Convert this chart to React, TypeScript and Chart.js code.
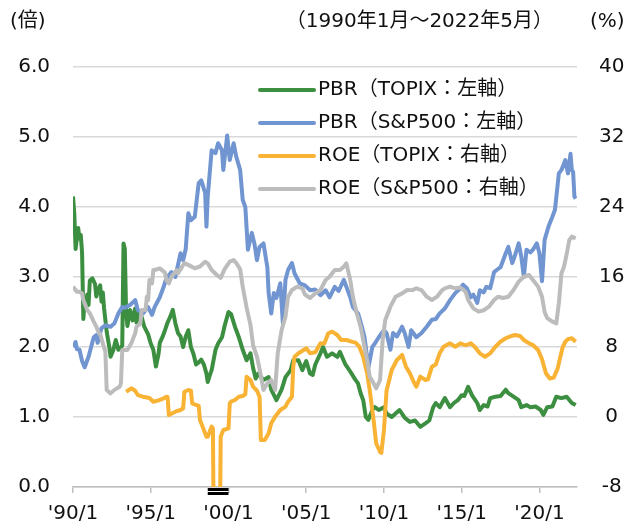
import React, { useEffect, useRef } from 'react';
import { Chart, registerables } from 'chart.js';
Chart.register(...registerables);

// x values are month offsets from 1990/1
const X_MAX = 389;
const X_TICKS = [0, 60, 120, 180, 240, 300, 360];
const X_TICK_LABELS = ["'90/1", "'95/1", "'00/1", "'05/1", "'10/1", "'15/1", "'20/1"];
const LEFT_MIN = 0, LEFT_MAX = 6, LEFT_STEP = 1;
const RIGHT_MIN = -8, RIGHT_MAX = 40, RIGHT_STEP = 8;
const SERIES_NAMES = ['PBR（TOPIX：左軸）', 'PBR（S&P500：左軸）', 'ROE（TOPIX：右軸）', 'ROE（S&P500：右軸）'];
const SERIES_COLORS = ['#3c8f40', '#7095d1', '#f8b234', '#bcbcbc'];
const TITLE_LEFT = '(倍)';
const TITLE_MID = '（1990年1月～2022年5月）';
const TITLE_RIGHT = '(%)';
const OFFSCALE_RANGE = [104, 120];

const PBR_TOPIX: [number, number][] = [
  [0,4.15],[1,3.9],[2,3.4],[3,3.55],[4,3.7],[5,3.55],[6,3.6],[7,3.35],[8,2.4],[9,2.7],[10,2.6],[11,2.75],[12,2.6],[13,2.95],[15,2.98],[17,2.9],[18,2.72],[19,2.8],[21,2.88],[22,2.65],[23,2.78],[24,2.55],[26,2.22],[28,2.0],[29,1.86],[31,1.95],[33,2.1],[35,1.96],[37,2.0],[38,2.02],[39,3.48],[40,3.4],[41,2.48],[42,2.3],[44,2.53],[46,2.38],[48,2.55],[49,2.35],[51,2.48],[53,2.43],[55,2.29],[58,2.18],[60,2.05],[62,1.96],[64,1.72],[66,1.9],[67,2.06],[69,2.14],[71,2.24],[73,2.35],[75,2.43],[77,2.53],[79,2.34],[81,2.2],[83,2.15],[85,2.0],[87,2.15],[89,2.24],[91,2.0],[93,1.9],[95,1.75],[97,1.78],[99,1.82],[101,1.75],[103,1.62],[104,1.5],[106,1.62],[107,1.67],[110,1.96],[112,2.05],[115,2.14],[117,2.3],[120,2.5],[122,2.47],[125,2.29],[128,2.14],[131,1.96],[134,1.81],[137,1.91],[139,1.7],[141,1.55],[143,1.62],[147,1.53],[151,1.57],[153,1.39],[157,1.24],[161,1.39],[164,1.57],[168,1.67],[170,1.81],[174,1.81],[177,1.67],[180,1.8],[183,1.62],[185,1.6],[187,1.75],[191,1.91],[193,2.0],[196,1.86],[200,1.91],[204,1.86],[206,1.93],[210,1.76],[214,1.65],[218,1.53],[220,1.48],[222,1.34],[224,1.24],[226,1.0],[228,0.96],[231,1.1],[233,1.14],[236,1.1],[240,1.14],[242,1.05],[246,1.0],[249,1.05],[252,1.1],[256,0.99],[260,0.93],[264,0.95],[268,0.86],[272,0.91],[275,0.95],[278,1.14],[280,1.2],[283,1.14],[287,1.27],[291,1.14],[294,1.2],[297,1.24],[300,1.31],[302,1.3],[305,1.43],[308,1.31],[312,1.2],[314,1.1],[317,1.17],[320,1.15],[322,1.27],[326,1.29],[330,1.3],[334,1.39],[336,1.34],[340,1.29],[344,1.24],[346,1.14],[350,1.17],[353,1.14],[357,1.15],[361,1.1],[363,1.03],[366,1.14],[370,1.15],[373,1.29],[377,1.27],[381,1.29],[385,1.2],[388,1.17]
];

const PBR_SP500: [number, number][] = [
  [0,2.0],[2,2.07],[3,1.97],[5,1.96],[7,1.8],[9,1.71],[12,1.86],[14,2.0],[16,2.14],[18,2.17],[19,2.06],[22,2.27],[25,2.31],[29,2.29],[32,2.34],[35,2.48],[38,2.57],[40,2.56],[44,2.6],[48,2.67],[50,2.53],[54,2.48],[58,2.57],[61,2.46],[63,2.57],[67,2.71],[70,2.86],[72,2.98],[76,3.07],[79,3.0],[83,3.34],[85,3.24],[87,3.4],[89,3.91],[91,3.81],[94,3.86],[97,4.34],[99,4.38],[102,4.2],[103,3.72],[104,4.15],[107,4.81],[110,4.77],[112,4.91],[115,4.81],[116,4.53],[119,5.02],[121,4.67],[124,4.91],[126,4.72],[129,4.53],[131,4.1],[133,4.0],[135,3.39],[138,3.63],[140,3.48],[142,3.24],[144,3.43],[147,3.48],[150,3.14],[151,2.77],[153,2.48],[155,2.77],[157,2.7],[160,2.91],[162,2.34],[164,2.96],[166,3.1],[169,3.2],[171,3.05],[175,2.91],[179,2.88],[183,2.81],[187,2.82],[191,2.74],[195,2.81],[198,2.71],[202,2.86],[205,2.8],[209,2.96],[211,2.86],[214,2.71],[216,2.57],[220,2.48],[223,2.29],[225,2.14],[228,1.71],[231,2.0],[233,2.05],[236,2.14],[240,2.24],[242,2.2],[245,1.96],[247,2.2],[250,2.15],[254,2.29],[256,2.2],[259,2.0],[261,2.24],[265,2.14],[269,2.2],[273,2.29],[277,2.39],[280,2.4],[283,2.48],[287,2.55],[291,2.67],[295,2.77],[299,2.84],[301,2.89],[304,2.84],[307,2.71],[309,2.75],[312,2.63],[314,2.81],[317,2.78],[319,2.86],[322,2.84],[325,3.07],[327,3.1],[330,3.14],[334,3.34],[336,3.43],[339,3.2],[341,3.3],[344,3.48],[346,3.29],[348,3.0],[350,3.39],[353,3.35],[355,3.39],[358,3.48],[360,3.34],[362,2.94],[364,3.53],[367,3.72],[370,3.86],[372,3.96],[375,4.48],[377,4.53],[380,4.67],[382,4.48],[384,4.76],[385,4.53],[386,4.5],[387,4.15],[388,4.12]
];

const ROE_TOPIX: [number, number][] = [
  [41,2.89],[45,3.28],[48,3.0],[50,2.51],[54,2.32],[59,2.17],[62,1.75],[66,1.9],[70,2.13],[72,2.32],[73,2.3],[74,0.23],[79,0.61],[83,0.8],[85,1.0],[86,2.89],[89,3.09],[91,3.0],[92,1.56],[95,1.37],[97,1.3],[98,-0.34],[100,-1.1],[103,-2.25],[104,-2.25],[106,-1.49],[107,-1.1],[108,-1.3],[109,-20],[113,-20],[114,-2.25],[116,-1.49],[118,-1.4],[120,-1.3],[121,1.56],[122,1.75],[125,1.94],[128,2.32],[131,2.4],[133,2.6],[134,4.6],[137,4.23],[139,3.46],[142,3.0],[144,2.32],[145,-2.63],[148,-2.63],[151,-1.87],[153,-0.72],[156,0.04],[160,0.8],[164,1.18],[166,1.75],[169,2.32],[170,5.75],[171,6.89],[174,7.28],[178,7.66],[180,7.85],[183,7.28],[187,7.4],[191,8.42],[194,8.4],[197,9.57],[200,9.75],[204,9.37],[207,8.8],[211,8.8],[215,8.61],[218,8.5],[221,8.03],[224,6.89],[227,5.0],[229,3.09],[232,-0.34],[234,-3.0],[237,-4.0],[238,-4.1],[240,-1.5],[242,3.0],[246,5.37],[250,6.51],[254,7.09],[257,5.75],[260,5.0],[263,4.0],[265,3.46],[268,4.61],[272,4.23],[274,4.3],[277,5.75],[280,6.0],[283,7.28],[286,8.03],[291,8.42],[295,8.03],[299,8.42],[303,8.2],[307,8.42],[310,8.03],[314,7.28],[318,6.89],[322,7.28],[326,8.03],[330,8.61],[334,9.0],[337,9.18],[341,9.37],[345,9.26],[348,8.8],[352,8.42],[355,8.23],[359,7.66],[362,6.6],[365,5.0],[368,4.4],[371,4.5],[374,5.5],[376,6.8],[378,8.0],[380,8.6],[382,8.9],[385,9.0],[388,8.6]
];

const ROE_SP500: [number, number][] = [
  [0,14.9],[3,14.32],[5,14.32],[7,14.13],[8,13.37],[11,12.23],[13,11.85],[16,10.9],[18,10.32],[20,9.57],[21,9.5],[23,8.4],[25,7.5],[26,3.09],[29,2.7],[32,3.1],[36,3.46],[37,3.85],[38,7.66],[42,7.66],[45,8.42],[48,9.57],[49,10.32],[52,10.7],[53,12.23],[56,12.23],[57,13.75],[58,13.37],[59,15.66],[61,15.28],[62,16.8],[63,16.8],[67,16.99],[71,16.5],[72,15.66],[74,15.28],[76,16.03],[80,16.8],[81,16.42],[86,17.6],[90,17.3],[94,17.0],[98,17.2],[102,17.75],[104,17.56],[107,16.8],[111,16.23],[114,15.9],[117,16.9],[121,17.75],[124,17.94],[126,17.6],[129,16.9],[131,14.9],[134,12.5],[137,10.5],[139,8.2],[142,6.89],[144,5.5],[147,3.09],[150,3.85],[153,4.23],[156,3.09],[158,7.28],[161,9.94],[164,11.47],[166,13.75],[169,14.51],[173,14.9],[177,14.71],[179,14.0],[183,13.6],[187,14.13],[191,14.51],[195,15.66],[198,16.03],[202,16.8],[206,16.8],[209,17.18],[211,17.56],[214,15.66],[216,13.75],[219,11.85],[222,10.32],[224,8.8],[227,6.51],[229,4.61],[232,3.85],[234,3.28],[237,4.23],[239,8.8],[241,11.09],[245,12.61],[249,13.75],[254,14.13],[258,14.51],[262,14.5],[265,14.71],[269,14.5],[273,13.75],[277,13.37],[281,13.75],[285,14.51],[287,14.71],[291,14.9],[295,14.71],[299,14.8],[303,14.32],[305,13.37],[309,12.42],[313,12.04],[317,12.2],[321,12.61],[325,13.37],[328,13.75],[332,13.6],[336,13.75],[340,14.51],[344,15.47],[348,16.03],[352,16.23],[355,15.66],[359,14.9],[362,13.75],[364,12.0],[366,11.3],[370,10.89],[373,10.7],[375,13.0],[377,16.42],[379,17.18],[381,18.6],[383,20.2],[385,20.61],[388,20.42]
];

const FONT_FAMILY = "'DejaVu Sans', 'Noto Sans CJK JP', sans-serif";
const FONT_SIZE = 20;
const TEXT_COLOR = '#111111';
const GRID_COLOR = '#d9d9d9';
const AXIS_COLOR = '#bfbfbf';

const overlayPlugin = {
  id: 'overlay',
  afterDraw(chart: any) {
    const ctx: CanvasRenderingContext2D = chart.ctx;
    const area = chart.chartArea;
    ctx.save();
    ctx.font = `${FONT_SIZE}px ${FONT_FAMILY}`;
    ctx.fillStyle = TEXT_COLOR;
    ctx.textBaseline = 'middle';
    ctx.textAlign = 'left';
    ctx.fillText(TITLE_LEFT, 10, 22);
    ctx.textAlign = 'right';
    ctx.fillText(TITLE_MID, 553, 22);
    ctx.textAlign = 'left';
    ctx.fillText(TITLE_RIGHT, 590, 22);

    // legend
    const lx0 = 260, lx1 = 314, ly0 = 90, lstep = 33;
    SERIES_NAMES.forEach((name, i) => {
      const y = ly0 + i * lstep;
      ctx.strokeStyle = SERIES_COLORS[i];
      ctx.lineWidth = 4;
      ctx.lineCap = 'round';
      ctx.beginPath();
      ctx.moveTo(lx0, y);
      ctx.lineTo(lx1, y);
      ctx.stroke();
      ctx.fillStyle = TEXT_COLOR;
      ctx.textAlign = 'left';
      ctx.fillText(name, lx1 + 4, y);
    });

    // off-scale marker below the axis
    const xs = chart.scales.x;
    const a = xs.getPixelForValue(OFFSCALE_RANGE[0]);
    const b = xs.getPixelForValue(OFFSCALE_RANGE[1]);
    ctx.fillStyle = '#000';
    ctx.fillRect(a, area.bottom + 1, b - a, 3);
    ctx.fillRect(a, area.bottom + 5, b - a, 3);
    ctx.restore();
  },
};

function toXY(arr: [number, number][]) {
  return arr.map(([x, y]) => ({ x, y }));
}

export default function App() {
  const ref = useRef<HTMLCanvasElement | null>(null);
  useEffect(() => {
    document.body.style.margin = '0';
    const canvas = ref.current!;
    const font = { family: FONT_FAMILY, size: FONT_SIZE };
    const mk = (i: number, data: [number, number][], axis: string, order: number) => ({
      label: SERIES_NAMES[i],
      data: toXY(data),
      borderColor: SERIES_COLORS[i],
      backgroundColor: SERIES_COLORS[i],
      borderWidth: 4,
      pointRadius: 0,
      tension: 0,
      borderJoinStyle: 'round' as const,
      yAxisID: axis,
      order,
    });
    const chart = new Chart(canvas, {
      type: 'line',
      data: {
        datasets: [
          mk(0, PBR_TOPIX, 'y', 3),
          mk(1, PBR_SP500, 'y', 2),
          mk(2, ROE_TOPIX, 'y1', 1),
          mk(3, ROE_SP500, 'y1', 0),
        ],
      },
      options: {
        animation: false,
        responsive: false,
        devicePixelRatio: 1,
        layout: { padding: { top: 67, left: 0, right: 0, bottom: 0 } },
        plugins: { legend: { display: false }, tooltip: { enabled: false }, title: { display: false } },
        scales: {
          x: {
            type: 'linear',
            min: 0,
            max: X_MAX,
            afterBuildTicks: (s: any) => { s.ticks = X_TICKS.map((v) => ({ value: v })); },
            afterFit: (s: any) => { s.height = 42; },
            grid: { drawOnChartArea: false, drawTicks: true, tickLength: 6, color: AXIS_COLOR, lineWidth: 1.5 },
            border: { display: true, color: AXIS_COLOR, width: 1.5 },
            ticks: {
              font, color: TEXT_COLOR, padding: 9, maxRotation: 0, autoSkip: false,
              callback: (v: any) => { const i = X_TICKS.indexOf(Number(v)); return i >= 0 ? X_TICK_LABELS[i] : ''; },
            },
          },
          y: {
            position: 'left',
            min: LEFT_MIN,
            max: LEFT_MAX,
            afterFit: (s: any) => { s.width = 73; },
            grid: { color: GRID_COLOR, lineWidth: 1.5, drawTicks: false },
            border: { display: false },
            ticks: { stepSize: LEFT_STEP, font, color: TEXT_COLOR, padding: 23, callback: (v: any) => Number(v).toFixed(1) },
          },
          y1: {
            position: 'right',
            min: RIGHT_MIN,
            max: RIGHT_MAX,
            afterFit: (s: any) => { s.width = 56; },
            grid: { drawOnChartArea: false, drawTicks: false },
            border: { display: false },
            ticks: { stepSize: RIGHT_STEP, font, color: TEXT_COLOR, padding: 22, crossAlign: 'center' },
          },
        },
      },
      plugins: [overlayPlugin],
    } as any);
    return () => chart.destroy();
  }, []);
  return (
    <div style={{ width: 633, height: 529, position: 'relative', background: '#fff' }}>
      <canvas ref={ref} width={633} height={529} style={{ display: 'block' }} />
    </div>
  );
}
